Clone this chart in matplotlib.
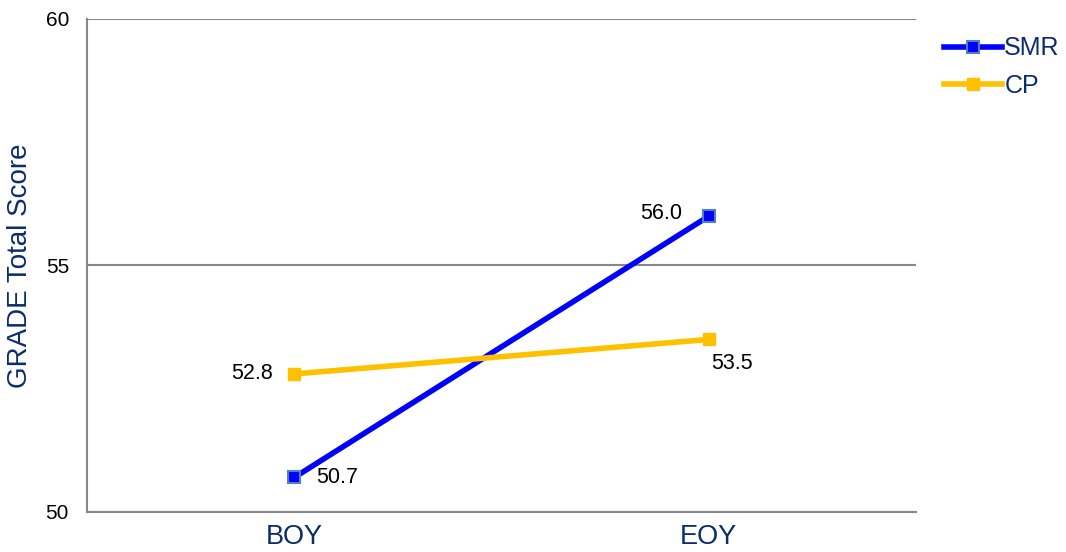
import matplotlib
matplotlib.use("Agg")
from matplotlib import pyplot as plt
import numpy as np

plt.rcParams['font.family'] = ['Liberation Sans', 'DejaVu Sans']

periods = ["BOY", "EOY"]
smr = [50.7, 56.0]
cp = [52.8, 53.5]
y_ticks = [50, 55, 60]

navy = "#0B2D6B"
grey = "#878787"

fig = plt.figure(figsize=(10.66, 5.52), dpi=100)
ax = fig.add_axes([0.0816, 0.0725, 0.7777, 0.8931])

x = np.arange(len(periods))
ax.plot(x, smr, color="#0000FF", lw=4, marker="s", ms=8,
        mfc="#0000FF", mec="#4F81BD", mew=1.5, label="SMR", zorder=3)
ax.plot(x, cp, color="#FFC000", lw=4, marker="s", ms=9,
        mfc="#FFC000", mec="#FFC000", label="CP", zorder=3)

# value labels
lab = 15.5
ax.annotate(f"{smr[0]:.1f}", (x[0], smr[0]), xytext=(16, 0), textcoords="offset points",
            ha="left", va="center", fontsize=lab)
ax.annotate(f"{smr[1]:.1f}", (x[1], smr[1]), xytext=(-19, 2), textcoords="offset points",
            ha="right", va="center", fontsize=lab)
ax.annotate(f"{cp[0]:.1f}", (x[0], cp[0]), xytext=(-15, 0), textcoords="offset points",
            ha="right", va="center", fontsize=lab)
ax.annotate(f"{cp[1]:.1f}", (x[1], cp[1]), xytext=(2, -17), textcoords="offset points",
            ha="left", va="center", fontsize=lab)

ax.set_xlim(-0.5, len(periods) - 0.5)
ax.set_ylim(50, 60)
ax.set_xticks(x)
ax.set_xticklabels(periods, fontsize=19.5, color=navy)
ax.set_yticks(y_ticks)
ax.set_yticklabels([str(t) for t in y_ticks], fontsize=15)
ax.tick_params(length=0)
ax.tick_params(axis="y", pad=13)
ax.tick_params(axis="x", pad=9)
ax.set_ylabel("GRADE Total Score", fontsize=20, color=navy, labelpad=9)

ax.grid(axis="y", color=grey, lw=1.5)
ax.set_axisbelow(True)
for side in ["top", "right"]:
    ax.spines[side].set_visible(False)
for side in ["left", "bottom"]:
    ax.spines[side].set_color(grey)
    ax.spines[side].set_linewidth(1.5)

leg = ax.legend(loc="upper left", bbox_to_anchor=(1.022, 0.985), frameon=False,
                fontsize=18, handlelength=2.3, handletextpad=0.1,
                labelspacing=0.55, borderaxespad=0)
for t in leg.get_texts():
    t.set_color(navy)

fig.savefig("out.png", dpi=100)
